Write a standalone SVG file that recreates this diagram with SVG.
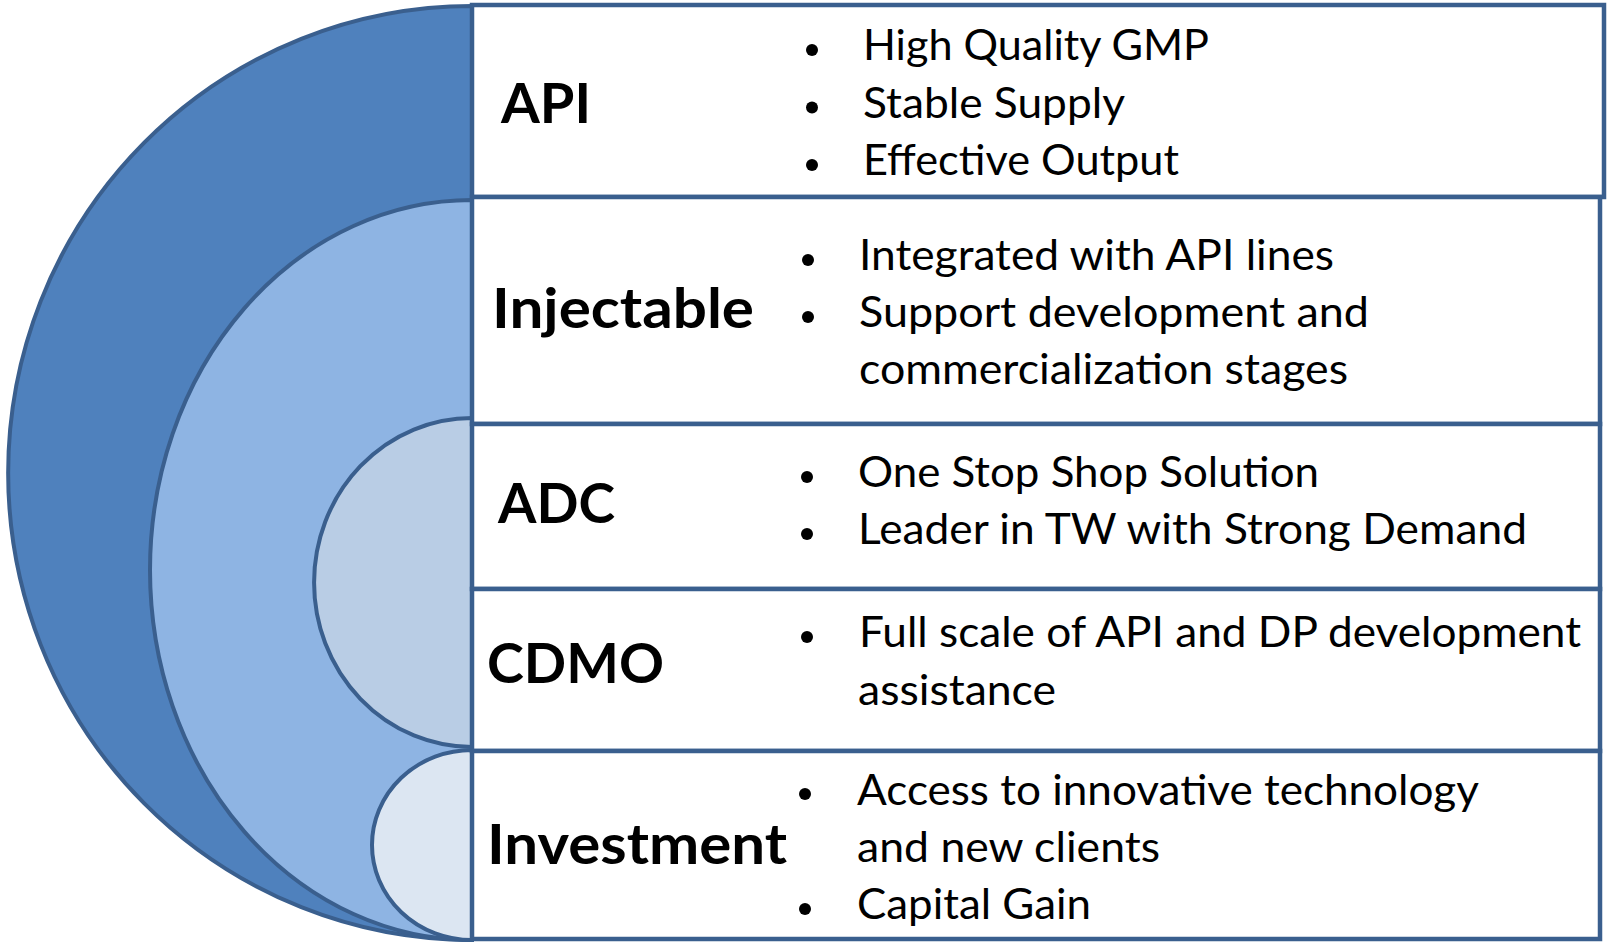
<svg xmlns="http://www.w3.org/2000/svg" width="1609" height="945" viewBox="0 0 1609 945">
  <style>
    .ring { stroke: #3a5f8e; stroke-width: 4; }
    .box { fill: #ffffff; stroke: #3a5f8e; stroke-width: 4.5; }
    .label { font-family: Lato, "Open Sans", "Liberation Sans", sans-serif; font-weight: 700; font-size: 56px; fill: #000000; }
    .item { font-family: Lato, "Open Sans", "Liberation Sans", sans-serif; font-weight: 400; font-size: 42.5px; fill: #000000; }
    .dot { fill: #000000; }
  </style>

  <!-- nested half-discs on the left -->
  <g id="rings">
    <path id="ring-api" class="ring" fill="#4f81bd" d="M472,6 A464,467 0 0 0 472,940 Z"/>
    <path id="ring-injectable" class="ring" fill="#8eb4e3" d="M472,200 A322,370 0 0 0 472,940 Z"/>
    <path id="ring-adc" class="ring" fill="#b9cde5" d="M472,418 A158,164.5 0 0 0 472,747 Z"/>
    <path id="ring-investment" class="ring" fill="#dce6f2" d="M472,750 A100,95 0 0 0 472,940 Z"/>
  </g>

  <!-- API -->
  <g id="row-api">
    <rect class="box" x="472" y="5" width="1132" height="192"/>
    <text class="label" x="501" y="123" textLength="90" lengthAdjust="spacingAndGlyphs">API</text>
    <circle class="dot" cx="812" cy="50" r="6"/>
    <circle class="dot" cx="812" cy="107.5" r="6"/>
    <circle class="dot" cx="812" cy="165" r="6"/>
    <text class="item" x="863" y="60" textLength="346" lengthAdjust="spacingAndGlyphs">High Quality GMP</text>
    <text class="item" x="863" y="117.5" textLength="262" lengthAdjust="spacingAndGlyphs">Stable Supply</text>
    <text class="item" x="863" y="175" textLength="316" lengthAdjust="spacingAndGlyphs">Effective Output</text>
  </g>

  <!-- Injectable -->
  <g id="row-injectable">
    <rect class="box" x="472" y="197" width="1128" height="227"/>
    <text class="label" x="492" y="328" textLength="262" lengthAdjust="spacingAndGlyphs">Injectable</text>
    <circle class="dot" cx="808" cy="260" r="6"/>
    <circle class="dot" cx="808" cy="317" r="6"/>
    <text class="item" x="859" y="270" textLength="475" lengthAdjust="spacingAndGlyphs">Integrated with API lines</text>
    <text class="item" x="859" y="327" textLength="510" lengthAdjust="spacingAndGlyphs">Support development and</text>
    <text class="item" x="859" y="384" textLength="489" lengthAdjust="spacingAndGlyphs">commercialization stages</text>
  </g>

  <!-- ADC -->
  <g id="row-adc">
    <rect class="box" x="472" y="424" width="1128" height="165"/>
    <text class="label" x="498" y="523" textLength="117" lengthAdjust="spacingAndGlyphs">ADC</text>
    <circle class="dot" cx="807" cy="477" r="6"/>
    <circle class="dot" cx="807" cy="534" r="6"/>
    <text class="item" x="858" y="487" textLength="461" lengthAdjust="spacingAndGlyphs">One Stop Shop Solution</text>
    <text class="item" x="858" y="544" textLength="669" lengthAdjust="spacingAndGlyphs">Leader in TW with Strong Demand</text>
  </g>

  <!-- CDMO -->
  <g id="row-cdmo">
    <rect class="box" x="472" y="589" width="1128" height="162"/>
    <text class="label" x="487" y="683" textLength="177" lengthAdjust="spacingAndGlyphs">CDMO</text>
    <circle class="dot" cx="807" cy="637" r="6"/>
    <text class="item" x="859" y="647" textLength="722" lengthAdjust="spacingAndGlyphs">Full scale of API and DP development</text>
    <text class="item" x="858" y="705" textLength="198" lengthAdjust="spacingAndGlyphs">assistance</text>
  </g>

  <!-- Investment -->
  <g id="row-investment">
    <rect class="box" x="472" y="751" width="1128" height="188"/>
    <text class="label" x="487" y="864" textLength="300" lengthAdjust="spacingAndGlyphs">Investment</text>
    <circle class="dot" cx="805" cy="794" r="6"/>
    <circle class="dot" cx="805" cy="909" r="6"/>
    <text class="item" x="857" y="805" textLength="622" lengthAdjust="spacingAndGlyphs">Access to innovative technology</text>
    <text class="item" x="857" y="862" textLength="303" lengthAdjust="spacingAndGlyphs">and new clients</text>
    <text class="item" x="857" y="919" textLength="234" lengthAdjust="spacingAndGlyphs">Capital Gain</text>
  </g>
</svg>
